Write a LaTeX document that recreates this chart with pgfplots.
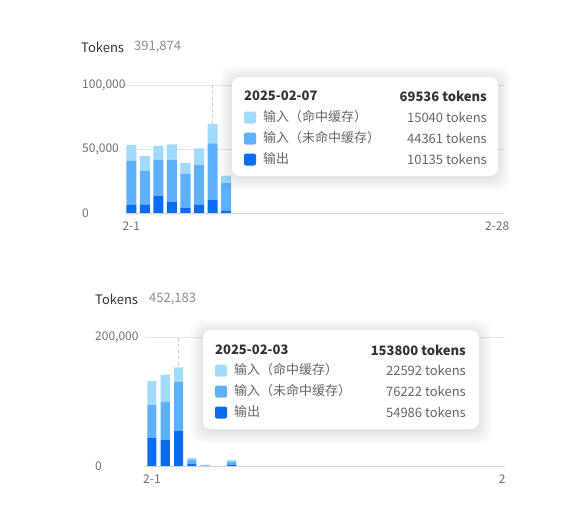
\documentclass[border=0pt]{standalone}
\usepackage{pgfplots}
\usepackage{pgfplotstable}
\pgfplotsset{compat=1.18}
\usepackage{fontspec}
\setmainfont{Noto Sans CJK SC}

\definecolor{hit}{HTML}{A0DBFC}
\definecolor{miss}{HTML}{5FB0FA}
\definecolor{outc}{HTML}{0B6CF0}
\definecolor{gridc}{HTML}{E0E6F1}
\definecolor{basec}{HTML}{D0D4DE}
\definecolor{ticklab}{HTML}{6E7079}
\definecolor{titlec}{HTML}{333333}
\definecolor{subc}{HTML}{8C8C8C}
\definecolor{tipc}{HTML}{666666}
\definecolor{pointer}{HTML}{C8CCD8}

% day index, output, input (cache miss), input (cache hit)
\pgfplotstableread{
d  o      m      h
0  6300   34700  12300
1  6300   26900  11200
2  13600  27900  10938
3  8900   32600  12100
4  4200   26300  8700
5  6300   31100  13000
6  10135  44361  15040
7  1600   22200  5200
}\feb

\pgfplotstableread{
d  o      m      h
0  44200  50900  37400
1  41000  59300  42083
2  54986  76222  22592
3  3600   5800   3100
4  200    500    900
6  2100   4100   3200
}\febb

\pgfplotsset{
  tok/.style={
    scale only axis, anchor=south west, at={(0pt,0pt)},
    ybar stacked, bar shift=0pt,
    xmin=-0.5, xmax=27.5, ymin=0,
    scaled y ticks=false,
    axis line style={draw=none}, tick style={draw=none},
    ymajorgrids, major grid style={draw=gridc, line width=0.8pt},
    xtick={0,27}, xticklabels={2-1,2-28},
    tick label style={font=\fontsize{12}{14}\selectfont, text=ticklab},
    yticklabel style={anchor=west, inner sep=0pt},
    xticklabel style={anchor=north, inner sep=0pt, yshift=-9pt},
    /pgf/number format/assume math mode=true,
    clip=false,
    every axis plot/.append style={draw=none},
  },
}
\tikzset{tipfont/.style={font=\fontsize{13}{15}\selectfont, inner sep=0pt}}

\begin{document}
\begin{tikzpicture}[x=1pt, y=1pt]
\path (0,0) rectangle (586,-509);

% ---- chart 1 ----
\node[tipfont, anchor=west, text=titlec] at (81,-47) {Tokens};
\node[tipfont, anchor=west, text=subc] at (134,-47) {391,874};

\begin{scope}[shift={(124.5pt,-213pt)}]
\begin{axis}[tok,
  width=379.5pt, height=128pt,
  ymax=100000, ytick={0,50000,100000},
  yticklabels={0,{50,000},{100,000}},
  yticklabel style={xshift=-42.5pt},
  bar width=0.74]
  \draw[basec, line width=0.8pt] (axis cs:-0.5,0) -- (axis cs:27.5,0);
  \draw[pointer, dashed] (axis cs:6,100000) -- (axis cs:6,69536);
  \addplot[fill=outc] table[x=d, y=o] {\feb};
  \addplot[fill=miss] table[x=d, y=m] {\feb};
  \addplot[fill=hit] table[x=d, y=h] {\feb};
  \draw[white, dashed] (axis cs:6,69536) -- (axis cs:6,0);
\end{axis}
\end{scope}

% tooltip 1
\foreach \i in {0,...,13}
  \fill[black, opacity=0.009, rounded corners=12pt] (232-\i,-79+\i) rectangle (498+\i,-178-\i);
\fill[white, rounded corners=8pt] (232,-77) rectangle (498,-176);
\node[tipfont, anchor=west, text=titlec, font=\fontsize{13}{15}\selectfont\bfseries] at (244,-96) {2025-02-07};
\node[tipfont, anchor=east, text=titlec, font=\fontsize{13}{15}\selectfont\bfseries] at (487,-96) {69536 tokens};
\fill[hit, rounded corners=2pt] (244,-111.5) rectangle (256,-123.5);
\fill[miss, rounded corners=2pt] (244,-132.5) rectangle (256,-144.5);
\fill[outc, rounded corners=2pt] (244,-153.5) rectangle (256,-165.5);
\node[tipfont, anchor=west, text=tipc] at (263,-117) {输入（命中缓存）};
\node[tipfont, anchor=west, text=tipc] at (263,-138) {输入（未命中缓存）};
\node[tipfont, anchor=west, text=tipc] at (263,-159) {输出};
\node[tipfont, anchor=east, text=tipc] at (487,-117) {15040 tokens};
\node[tipfont, anchor=east, text=tipc] at (487,-138) {44361 tokens};
\node[tipfont, anchor=east, text=tipc] at (487,-159) {10135 tokens};

% ---- chart 2 ----
\node[tipfont, anchor=west, text=titlec] at (95,-299) {Tokens};
\node[tipfont, anchor=west, text=subc] at (149,-299) {452,183};

\begin{scope}
\clip (0,-250) rectangle (504.5,-509);
\begin{scope}[shift={(145.3pt,-466pt)}]
\begin{axis}[tok,
  width=372.4pt, height=128.3pt,
  ymax=200000, ytick={0,200000},
  yticklabels={0,{200,000}},
  yticklabel style={xshift=-50.3pt},
  bar width=0.68]
  \draw[basec, line width=0.8pt] (axis cs:-0.5,0) -- (axis cs:27.5,0);
  \draw[pointer, dashed] (axis cs:2,200000) -- (axis cs:2,153800);
  \addplot[fill=outc] table[x=d, y=o] {\febb};
  \addplot[fill=miss] table[x=d, y=m] {\febb};
  \addplot[fill=hit] table[x=d, y=h] {\febb};
  \draw[white, dashed] (axis cs:2,153800) -- (axis cs:2,0);
\end{axis}
\end{scope}
\end{scope}

% tooltip 2
\foreach \i in {0,...,13}
  \fill[black, opacity=0.009, rounded corners=12pt] (203-\i,-332+\i) rectangle (479+\i,-431-\i);
\fill[white, rounded corners=8pt] (203,-330) rectangle (479,-429);
\node[tipfont, anchor=west, text=titlec, font=\fontsize{13}{15}\selectfont\bfseries] at (215,-350) {2025-02-03};
\node[tipfont, anchor=east, text=titlec, font=\fontsize{13}{15}\selectfont\bfseries] at (466,-350) {153800 tokens};
\fill[hit, rounded corners=2pt] (215,-364.5) rectangle (227,-376.5);
\fill[miss, rounded corners=2pt] (215,-385.5) rectangle (227,-397.5);
\fill[outc, rounded corners=2pt] (215,-406.5) rectangle (227,-418.5);
\node[tipfont, anchor=west, text=tipc] at (234,-370) {输入（命中缓存）};
\node[tipfont, anchor=west, text=tipc] at (234,-391) {输入（未命中缓存）};
\node[tipfont, anchor=west, text=tipc] at (234,-412) {输出};
\node[tipfont, anchor=east, text=tipc] at (466,-370) {22592 tokens};
\node[tipfont, anchor=east, text=tipc] at (466,-391) {76222 tokens};
\node[tipfont, anchor=east, text=tipc] at (466,-412) {54986 tokens};
\end{tikzpicture}
\end{document}
